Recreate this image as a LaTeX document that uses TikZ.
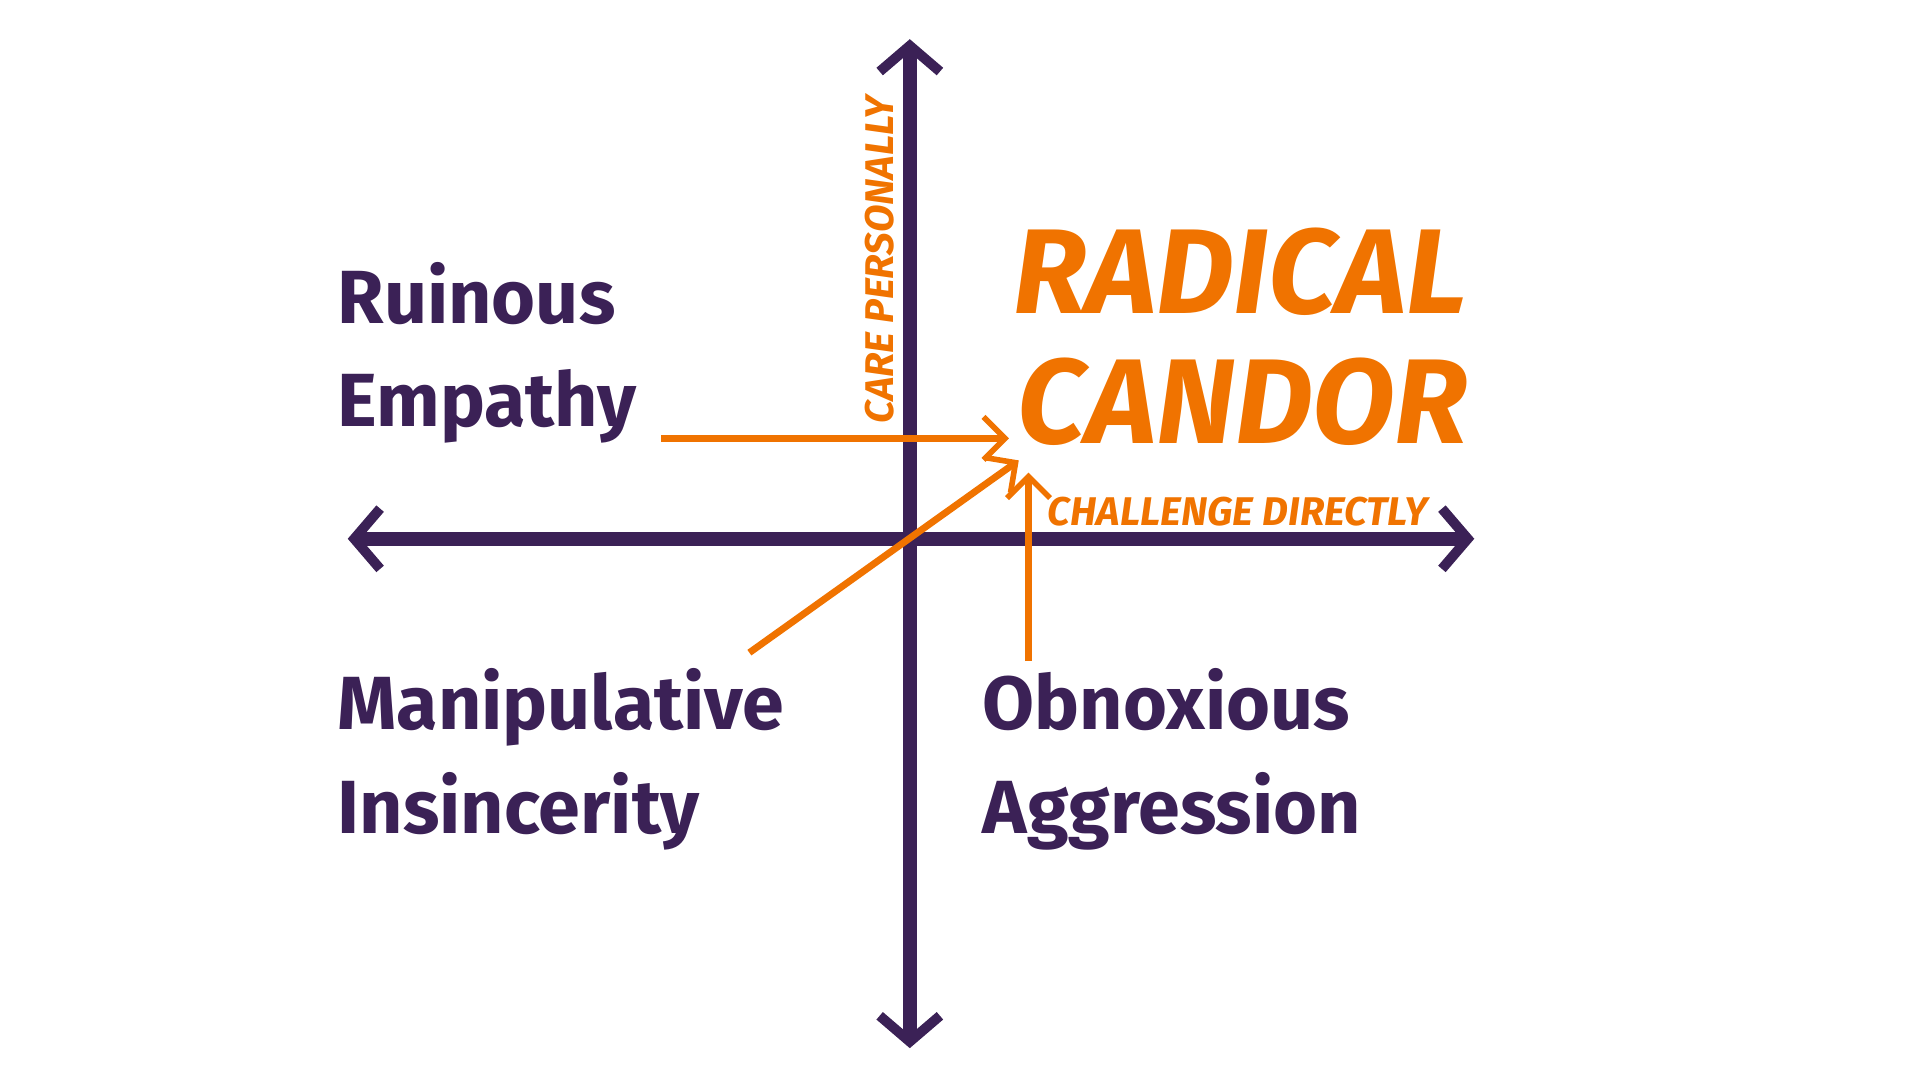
\documentclass[tikz,border=0pt]{standalone}
\usepackage{fontspec}
\setmainfont{Fira Sans}
\usetikzlibrary{arrows.meta}
\definecolor{pur}{HTML}{3B2156}
\definecolor{org}{HTML}{F07300}
\begin{document}
\begin{tikzpicture}[x=0.01cm,y=-0.01cm,
  ax/.style={pur,line width=3.2pt,line cap=round,{Straight Barb[length=6pt,width=14pt,line width=2.3pt]}-{Straight Barb[length=6pt,width=14pt,line width=2.3pt]}},
  oa/.style={org,line width=1.6pt,-{Straight Barb[length=5pt,width=10pt,line width=1.3pt]}},
  quad/.style={pur,font=\fontsize{17.5}{24}\selectfont\bfseries,anchor=west,align=left,inner sep=0pt},
  big/.style={org,font=\fontsize{28}{32}\selectfont\bfseries\itshape},
  lab/.style={org,font=\fontsize{9.3}{11}\selectfont\bfseries\itshape}]
\useasboundingbox (0,0) rectangle (1568,882);
\coordinate (vt) at (743,32); \coordinate (vb) at (743,856);
\coordinate (hl) at (284,440); \coordinate (hr) at (1204,440);
\draw[ax] (vb) -- (vt);
\draw[ax] (hl) -- (hr);
\coordinate (h1) at (540,358); \coordinate (h2) at (824,358);
\coordinate (d1) at (612,533); \coordinate (d2) at (832,376);
\coordinate (u1) at (840,540); \coordinate (u2) at (840,386);
\draw[oa] (h1) -- (h2);
\draw[oa] (d1) -- (d2);
\draw[oa] (u1) -- (u2);
\node[lab,rotate=90] (cp) at (718,212) {CARE PERSONALLY};
\node[lab] (cd) at (1011,418) {CHALLENGE DIRECTLY};
\node[big] (rad) at (1013,222) {RADICAL};
\node[big] (can) at (1015,328) {CANDOR};
\node[quad] (re) at (275,288) {Ruinous\\Empathy};
\node[quad] (mi) at (275,620) {Manipulative\\Insincerity};
\node[quad] (oag) at (802,620) {Obnoxious\\Aggression};
\end{tikzpicture}
\end{document}
